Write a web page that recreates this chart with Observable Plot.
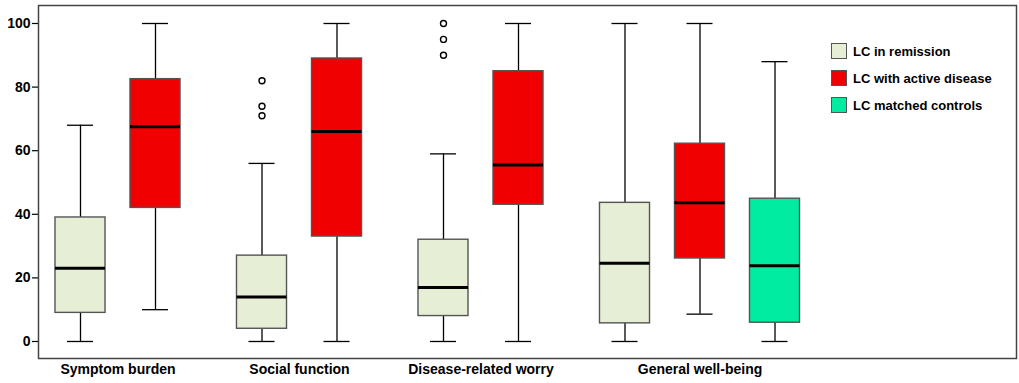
<!DOCTYPE html>
<html>
<head>
<meta charset="utf-8">
<script src="https://cdn.jsdelivr.net/npm/d3@7"></script>
<script src="https://cdn.jsdelivr.net/npm/@observablehq/plot@0.6"></script>
<style>
  html, body { margin: 0; padding: 0; background: #fff; }
  #wrap { position: relative; width: 1019px; height: 383px; font-family: "Liberation Sans", Arial, sans-serif; }
  #legend { position: absolute; left: 831px; top: 43px; }
  .row { display: flex; align-items: center; height: 16px; margin-bottom: 11px; }
  .sw { width: 16px; height: 16px; box-sizing: border-box; border: 1px solid #555; }
  .lab { margin-left: 6px; font-size: 13px; font-weight: bold; color: #000; white-space: nowrap; }
</style>
</head>
<body>
<div id="wrap"><div id="legend"></div></div>
<script>
// ---- data ----
const groups = ["Symptom burden", "Social function", "Disease-related worry", "General well-being"];
const series = ["LC in remission", "LC with active disease", "LC matched controls"];
const seriesColors = ["#e6eed5", "#f00000", "#00eca0"];
const yTicks = [0, 20, 40, 60, 80, 100];

const boxGroup = ["Symptom burden", "Symptom burden", "Social function", "Social function",
  "Disease-related worry", "Disease-related worry", "General well-being", "General well-being", "General well-being"];
const boxSeries = ["LC in remission", "LC with active disease", "LC in remission", "LC with active disease",
  "LC in remission", "LC with active disease", "LC in remission", "LC with active disease", "LC matched controls"];
const whiskerLow  = [0, 10, 0, 0, 0, 0, 0, 8.6, 0];
const q1          = [9, 42, 4, 33, 8, 43, 5.7, 26.1, 5.9];
const median      = [23, 67.5, 14, 66, 17, 55.5, 24.6, 43.6, 23.8];
const q3          = [39, 82.5, 27, 89, 32, 85, 43.6, 62.2, 44.9];
const whiskerHigh = [68, 100, 56, 100, 59, 100, 100, 100, 88];

const outlierGroup = ["Social function", "Social function", "Social function",
  "Disease-related worry", "Disease-related worry", "Disease-related worry"];
const outlierSeries = ["LC in remission", "LC in remission", "LC in remission",
  "LC in remission", "LC in remission", "LC in remission"];
const outlierValue = [82, 74, 71, 100, 95, 90];

// ---- layout (x in slot units) ----
const GROUP_STEP = 2.42, BOX_W = 0.667, CAP_W = 0.347;
const pos = (g, s) => groups.indexOf(g) * GROUP_STEP + series.indexOf(s);

const boxes = boxGroup.map((g, i) => ({
  group: g, series: boxSeries[i], x: pos(g, boxSeries[i]),
  low: whiskerLow[i], q1: q1[i], median: median[i], q3: q3[i], high: whiskerHigh[i]
}));
const outliers = outlierValue.map((v, i) => ({ x: pos(outlierGroup[i], outlierSeries[i]), value: v }));

const centers = groups.map(g => d3.mean(boxes.filter(b => b.group === g), b => b.x));
const centerLabel = new Map(centers.map((c, i) => [c, groups[i]]));

const chart = Plot.plot({
  width: 1019, height: 383,
  marginLeft: 38, marginRight: 3, marginTop: 5, marginBottom: 25,
  x: { domain: [-0.56, 12.48], axis: null },
  y: { domain: [-5.35, 105.66], axis: null },
  color: { domain: series, range: seriesColors },
  style: { fontFamily: "Liberation Sans, Arial, sans-serif", color: "#000", background: "#fff" },
  marks: [
    Plot.axisY({ ticks: yTicks, tickSize: 6, tickPadding: 2, fontSize: 14, fontWeight: "bold", label: null, strokeWidth: 1.2 }),
    Plot.axisX({ ticks: centers, tickFormat: d => centerLabel.get(d), tickSize: 0, tickPadding: 6, fontSize: 14, fontWeight: "bold", label: null }),
    Plot.ruleX(boxes, { x: "x", y1: "low", y2: "high", stroke: "#000", strokeWidth: 1.3 }),
    Plot.ruleY(boxes, { y: "low", x1: d => d.x - CAP_W / 2, x2: d => d.x + CAP_W / 2, stroke: "#000", strokeWidth: 1.3 }),
    Plot.ruleY(boxes, { y: "high", x1: d => d.x - CAP_W / 2, x2: d => d.x + CAP_W / 2, stroke: "#000", strokeWidth: 1.3 }),
    Plot.rect(boxes, { x1: d => d.x - BOX_W / 2, x2: d => d.x + BOX_W / 2, y1: "q1", y2: "q3", fill: "series", stroke: "#555", strokeWidth: 1.4 }),
    Plot.ruleY(boxes, { y: "median", x1: d => d.x - BOX_W / 2, x2: d => d.x + BOX_W / 2, stroke: "#000", strokeWidth: 3 }),
    Plot.dot(outliers, { x: "x", y: "value", r: 3, fill: "#fff", stroke: "#000", strokeWidth: 1.4 }),
    Plot.frame({ stroke: "#444", strokeWidth: 1.5 })
  ]
});
document.getElementById("wrap").prepend(chart);

const legend = document.getElementById("legend");
series.forEach((s, i) => {
  const row = document.createElement("div");
  row.className = "row";
  row.innerHTML = `<div class="sw" style="background:${seriesColors[i]}"></div><div class="lab">${s}</div>`;
  legend.appendChild(row);
});
</script>
</body>
</html>
